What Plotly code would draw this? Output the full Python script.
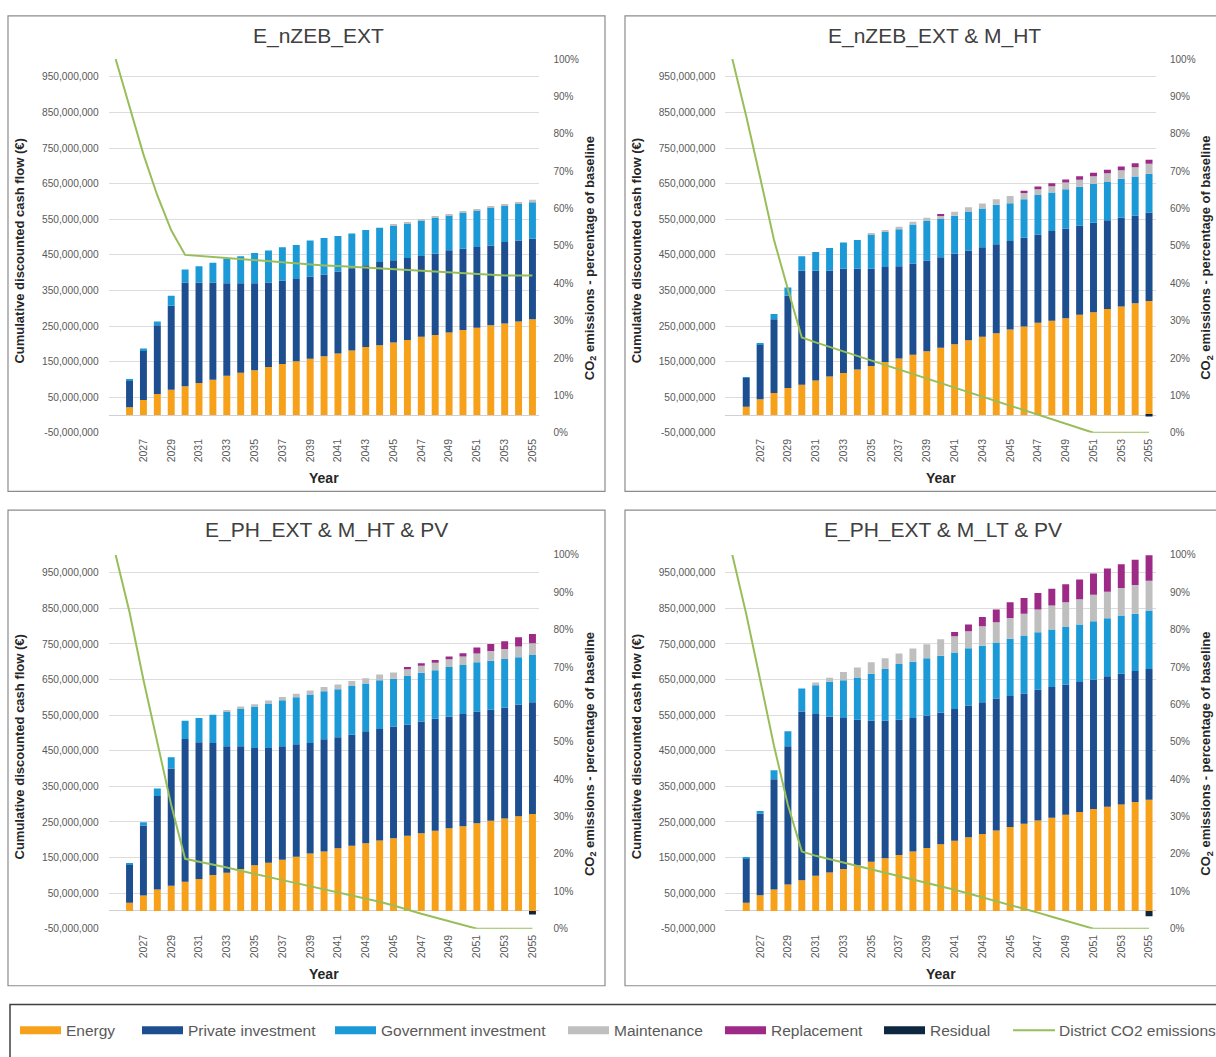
import numpy as np
import plotly.graph_objects as go

# ---------------- data (values in million €) ----------------
YEARS = list(range(2026, 2056))
LINE_YEARS = list(range(2025, 2056))
TICK_YEARS = list(range(2027, 2056, 2))
MONEY_TICKS = list(range(-50_000_000, 1_000_000_000, 100_000_000))
PCT_TICKS = list(range(0, 101, 10))

SERIES = ["Energy", "Private investment", "Government investment",
          "Maintenance", "Replacement", "Residual"]
LINE_NAME = "District CO2 emissions"
TITLES = ["E_nZEB_EXT", "E_nZEB_EXT & M_HT",
          "E_PH_EXT & M_HT & PV", "E_PH_EXT & M_LT & PV"]

# Panel 1: E_nZEB_EXT  (cumulative stack levels: top of each segment)
P1_ENERGY = [22, 42, 59, 71, 81, 90, 99, 110, 119, 126, 135, 143, 151, 158, 165,
             173, 181, 191, 196, 204, 211, 220, 225, 232, 239, 245, 252, 257, 263, 269]
P1_PRIVATE_TOP = [97, 182, 252, 307, 372, 372, 372, 370, 370, 370, 372, 377, 382, 389, 395,
                  403, 412, 421, 430, 435, 441, 447, 453, 463, 467, 472, 476, 486, 490, 495]
P1_GOV_TOP = [99, 187, 263, 335, 409, 418, 428, 440, 446, 455, 462, 471, 478, 490, 497,
              503, 510, 520, 526, 533, 538, 547, 555, 561, 568, 575, 582, 589, 595, 598]
P1_MAINT_TOP = [99, 187, 263, 335, 409, 418, 428, 440, 446, 455, 462, 471, 478, 490, 497,
                503, 510, 520, 526, 535, 541, 550, 558, 564, 571, 578, 585, 592, 598, 605]
P1_REPL_TOP = [99, 187, 263, 335, 409, 418, 428, 440, 446, 455, 462, 471, 478, 490, 497,
               503, 510, 520, 526, 535, 541, 550, 558, 564, 571, 578, 585, 592, 598, 605]
P1_RESIDUAL = [0] * 30
P1_CO2 = [100, 87.4, 74.5, 63.5, 54.2, 47.6, 47.3, 47.0, 46.8, 46.5, 46.2, 45.9, 45.6, 45.3,
          45.0, 44.8, 44.6, 44.4, 44.2, 44.0, 43.8, 43.6, 43.4, 43.2, 43.0, 42.7, 42.4, 42.2,
          42.1, 42.1, 42.1]

# Panel 2: E_nZEB_EXT & M_HT
P2_ENERGY = [23, 44, 62, 76, 85, 97, 108, 118, 128, 138, 149, 159, 169, 179, 189,
             199, 210, 220, 230, 240, 249, 259, 265, 272, 282, 289, 298, 305, 314, 320]
P2_PRIVATE_TOP = [104, 198, 269, 335, 405, 405, 405, 411, 411, 411, 416, 418, 425, 434, 443,
                  453, 462, 471, 480, 489, 498, 507, 517, 523, 532, 540, 547, 554, 560, 569]
P2_GOV_TOP = [106, 201, 284, 358, 446, 458, 469, 485, 492, 508, 514, 522, 535, 545, 551,
              560, 572, 580, 591, 595, 606, 618, 625, 634, 641, 649, 655, 664, 670, 678]
P2_MAINT_TOP = [106, 201, 284, 358, 446, 458, 469, 485, 492, 511, 519, 529, 543, 554, 560,
                571, 584, 594, 606, 615, 624, 634, 643, 653, 661, 671, 679, 688, 696, 706]
P2_REPL_TOP = [106, 201, 284, 358, 446, 458, 469, 485, 492, 511, 519, 529, 543, 554, 563,
               571, 584, 594, 606, 615, 630, 642, 651, 662, 671, 681, 689, 698, 707, 717]
P2_RESIDUAL = [0] * 29 + [-4]
P2_CO2 = [100, 84.7, 68.3, 51.6, 38.4, 25.5, 24.2, 23.0, 21.8, 20.6, 19.4, 18.2, 17.0, 15.8,
          14.5, 13.2, 12.0, 10.8, 9.6, 8.4, 7.2, 6.0, 4.8, 3.6, 2.4, 1.2, 0, 0, 0, 0, 0]

# Panel 3: E_PH_EXT & M_HT & PV
P3_ENERGY = [23, 43, 60, 71, 82, 90, 101, 107, 118, 128, 135, 144, 152, 161, 167,
             176, 183, 190, 198, 204, 211, 218, 225, 232, 238, 246, 253, 260, 266, 272]
P3_PRIVATE_TOP = [131, 240, 323, 400, 483, 474, 472, 463, 463, 458, 458, 463, 468, 472, 482,
                  488, 495, 505, 511, 518, 523, 532, 540, 546, 553, 560, 565, 571, 579, 586]
P3_GOV_TOP = [133, 249, 344, 432, 534, 542, 551, 560, 569, 574, 583, 592, 600, 608, 617,
              623, 632, 639, 648, 652, 660, 669, 676, 685, 691, 699, 703, 708, 713, 719]
P3_MAINT_TOP = [133, 249, 344, 432, 534, 542, 551, 564, 574, 581, 591, 601, 610, 619, 629,
                636, 646, 654, 664, 670, 679, 689, 697, 707, 715, 723, 730, 736, 743, 752]
P3_REPL_TOP = [133, 249, 344, 432, 534, 542, 551, 564, 574, 581, 591, 601, 610, 619, 629,
               636, 646, 654, 664, 670, 685, 696, 705, 715, 724, 740, 750, 758, 769, 778]
P3_RESIDUAL = [0] * 29 + [-10]
P3_CO2 = [100, 84.7, 66.6, 49.8, 33.1, 18.7, 18.0, 17.2, 16.4, 15.5, 14.6, 13.8, 13.0, 12.2,
          11.4, 10.6, 9.8, 9.0, 8.1, 7.2, 6.2, 5.0, 4.0, 3.0, 2.0, 1.0, 0, 0, 0, 0, 0]

# Panel 4: E_PH_EXT & M_LT & PV
P4_ENERGY = [23, 44, 60, 74, 86, 99, 108, 118, 128, 138, 148, 157, 167, 177, 187,
             197, 207, 216, 226, 236, 245, 254, 262, 270, 278, 286, 293, 299, 306, 312]
P4_PRIVATE_TOP = [148, 273, 370, 463, 560, 553, 546, 542, 537, 534, 534, 537, 542, 549, 557,
                  567, 577, 586, 597, 604, 611, 622, 629, 636, 643, 650, 659, 666, 674, 680]
P4_GOV_TOP = [149, 281, 395, 505, 625, 634, 644, 648, 656, 666, 680, 694, 700, 710, 717,
              726, 738, 745, 754, 765, 774, 783, 791, 798, 805, 814, 822, 830, 835, 844]
P4_MAINT_TOP = [149, 281, 395, 505, 625, 642, 655, 671, 684, 699, 710, 723, 737, 749, 763,
                772, 786, 800, 811, 823, 835, 847, 858, 867, 876, 888, 897, 907, 916, 928]
P4_REPL_TOP = [149, 281, 395, 505, 625, 642, 655, 671, 684, 699, 710, 723, 737, 749, 763,
               784, 805, 826, 847, 867, 879, 893, 905, 918, 931, 948, 962, 974, 987, 999]
P4_RESIDUAL = [0] * 29 + [-15]
P4_CO2 = [100, 84.2, 66.6, 48.9, 33.1, 20.7, 19.5, 18.6, 17.7, 16.8, 15.9, 15.0, 14.1, 13.2,
          12.3, 11.4, 10.4, 9.4, 8.4, 7.5, 6.5, 5.4, 4.3, 3.2, 2.1, 1.0, 0, 0, 0, 0, 0]

PANELS = [
    (P1_ENERGY, P1_PRIVATE_TOP, P1_GOV_TOP, P1_MAINT_TOP, P1_REPL_TOP, P1_RESIDUAL, P1_CO2),
    (P2_ENERGY, P2_PRIVATE_TOP, P2_GOV_TOP, P2_MAINT_TOP, P2_REPL_TOP, P2_RESIDUAL, P2_CO2),
    (P3_ENERGY, P3_PRIVATE_TOP, P3_GOV_TOP, P3_MAINT_TOP, P3_REPL_TOP, P3_RESIDUAL, P3_CO2),
    (P4_ENERGY, P4_PRIVATE_TOP, P4_GOV_TOP, P4_MAINT_TOP, P4_REPL_TOP, P4_RESIDUAL, P4_CO2),
]

# ---------------- style ----------------
COLORS = ["#F7A11A", "#1D4E8F", "#1B9AD7", "#BFBFBF", "#9C2A86", "#0D2740"]
LINE_COLOR = "#98BE5A"
FONT = "Liberation Sans, Arial, sans-serif"
TICK_COLOR = "#595959"
W, H = 1216, 1057


def px(x):
    return x / W


def py(y):
    return 1 - y / H


X_DOMS = [[px(108.7), px(539.4)], [px(725.4), px(1156.0)]]
Y_DOMS = [[py(431.7), py(53.7)], [py(933.3), py(555.3)]]
BOXES = [(8, 10, 605, 491), (625, 10, 1222, 491), (8, 510, 605, 991), (625, 510, 1222, 991)]
TITLE_POS = [(318, 30), (934, 30), (326, 530), (943, 530)]

fig = go.Figure()
layout = {}
annotations = []
shapes = []

for k, (energy, ptop, gtop, mtop, rtop, resid, co2) in enumerate(PANELS):
    col, row = k % 2, k // 2
    xname = "x" if k == 0 else f"x{k + 1}"
    yl = "y" if k == 0 else f"y{k + 1}"
    yr = f"y{k + 5}"
    levels = np.vstack([np.zeros(len(YEARS)), energy, ptop, gtop, mtop, rtop])
    comps = list(np.diff(levels, axis=0)) + [np.array(resid, float)]
    for name, vals, color in zip(SERIES, comps, COLORS):
        fig.add_trace(go.Bar(
            x=YEARS, y=np.asarray(vals) * 1e6, name=name, marker_color=color,
            marker_line_width=0, width=0.5, xaxis=xname, yaxis=yl,
            showlegend=False, legendgroup=name))
    fig.add_trace(go.Scatter(
        x=LINE_YEARS, y=co2, name=LINE_NAME, mode="lines",
        line=dict(color=LINE_COLOR, width=2), xaxis=xname, yaxis=yr,
        showlegend=False, legendgroup=LINE_NAME))

    xkey = "xaxis" if k == 0 else f"xaxis{k + 1}"
    ylkey = "yaxis" if k == 0 else f"yaxis{k + 1}"
    yrkey = f"yaxis{k + 5}"
    layout[xkey] = dict(
        domain=X_DOMS[col], anchor=yl, range=[2024.5, 2055.5],
        tickvals=TICK_YEARS, ticktext=[str(t) for t in TICK_YEARS], tickangle=-90,
        showgrid=False, zeroline=False, showline=False,
        ticks="outside", ticklen=1, tickcolor="rgba(0,0,0,0)",
        tickfont=dict(family=FONT, size=10.5, color=TICK_COLOR))
    layout[ylkey] = dict(
        domain=Y_DOMS[row], anchor=xname, range=[-50e6, 1000e6],
        tickvals=MONEY_TICKS, ticktext=[f"{v:,}" for v in MONEY_TICKS],
        showgrid=True, gridcolor="#DCDCDC", gridwidth=1,
        zeroline=True, zerolinecolor="#D0D0D0", zerolinewidth=1, showline=False,
        ticks="outside", ticklen=7, tickcolor="rgba(0,0,0,0)",
        tickfont=dict(family=FONT, size=10.2, color=TICK_COLOR))
    layout[yrkey] = dict(
        overlaying=yl, side="right", anchor=xname, range=[0, 100],
        tickvals=PCT_TICKS, ticktext=[f"{v}%" for v in PCT_TICKS],
        showgrid=False, zeroline=False, showline=False,
        ticks="outside", ticklen=11, tickcolor="rgba(0,0,0,0)",
        tickfont=dict(family=FONT, size=10, color=TICK_COLOR))

    # panel frame
    x0, y0, x1, y1 = BOXES[k]
    shapes.append(dict(type="rect", xref="paper", yref="paper",
                       x0=px(x0), x1=px(x1), y0=py(y1), y1=py(y0),
                       line=dict(color="#8C8C8C", width=1.2), fillcolor="rgba(0,0,0,0)",
                       layer="below"))
    # titles
    tx, ty = TITLE_POS[k]
    annotations.append(dict(text=TITLES[k], x=px(tx), y=py(ty), xref="paper", yref="paper",
                            showarrow=False, xanchor="center", yanchor="middle",
                            font=dict(family=FONT, size=21, color="#404040")))
    left = X_DOMS[col][0] * W
    right = X_DOMS[col][1] * W
    top = (1 - Y_DOMS[row][1]) * H
    bottom = (1 - Y_DOMS[row][0]) * H
    annotations.append(dict(text="<b>Cumulative discounted cash flow (€)</b>",
                            x=px(left - 89), y=py((top + bottom) / 2 + 5),
                            xref="paper", yref="paper", showarrow=False, textangle=-90,
                            xanchor="center", yanchor="middle",
                            font=dict(family=FONT, size=13, color="#262626")))
    annotations.append(dict(text="<b>CO<sub>2</sub> emissions - percentage of baseline</b>",
                            x=px(right + 51), y=py((top + bottom) / 2 + 12),
                            xref="paper", yref="paper", showarrow=False, textangle=-90,
                            xanchor="center", yanchor="middle",
                            font=dict(family=FONT, size=13, color="#262626")))
    annotations.append(dict(text="<b>Year</b>", x=px((left + right) / 2), y=py(bottom + 46),
                            xref="paper", yref="paper", showarrow=False,
                            xanchor="center", yanchor="middle",
                            font=dict(family=FONT, size=14, color="#262626")))

# ---------------- legend (drawn manually to mimic wide swatches) ----------------
shapes.append(dict(type="rect", xref="paper", yref="paper",
                   x0=px(10), x1=px(1230), y0=py(1070), y1=py(1010),
                   line=dict(color="#404040", width=1.5), fillcolor="rgba(0,0,0,0)"))
LEG_X = [20, 142, 335, 568, 725, 884]
LEG_Y = 1036
for name, color, lx in zip(SERIES, COLORS, LEG_X):
    shapes.append(dict(type="rect", xref="paper", yref="paper",
                       x0=px(lx), x1=px(lx + 41), y0=py(LEG_Y + 4), y1=py(LEG_Y - 4),
                       line=dict(width=0), fillcolor=color))
    annotations.append(dict(text=name, x=px(lx + 44), y=py(LEG_Y), xref="paper", yref="paper",
                            showarrow=False, xanchor="left", yanchor="middle",
                            font=dict(family=FONT, size=15.5, color=TICK_COLOR)))
shapes.append(dict(type="line", xref="paper", yref="paper",
                   x0=px(1013), x1=px(1055), y0=py(LEG_Y), y1=py(LEG_Y),
                   line=dict(color=LINE_COLOR, width=2)))
annotations.append(dict(text=LINE_NAME, x=px(1057), y=py(LEG_Y), xref="paper", yref="paper",
                        showarrow=False, xanchor="left", yanchor="middle",
                        font=dict(family=FONT, size=15.5, color=TICK_COLOR)))

fig.update_layout(
    width=W, height=H, margin=dict(l=0, r=0, t=0, b=0),
    paper_bgcolor="white", plot_bgcolor="rgba(0,0,0,0)",
    barmode="relative", showlegend=False,
    annotations=annotations, shapes=shapes,
    font=dict(family=FONT, color=TICK_COLOR),
    **layout)

fig.write_html("out.html", config={"displayModeBar": False},
               post_script="document.body.style.margin='0px';document.body.style.overflow='hidden';")
